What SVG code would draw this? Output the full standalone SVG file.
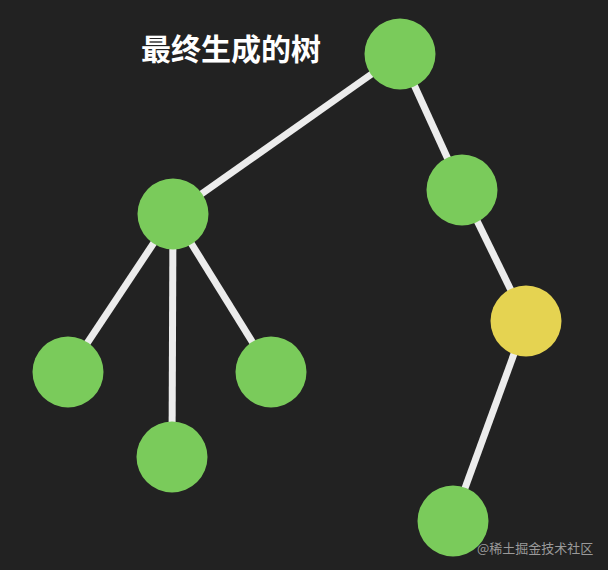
<svg xmlns="http://www.w3.org/2000/svg" width="608" height="570" viewBox="0 0 608 570">
<style>
.e{stroke:#ececec;stroke-width:7;stroke-linecap:butt}
.g{fill:#7acb5b}
.y{fill:#e5d351}
.t{font-family:"Noto Sans CJK SC","Noto Sans",sans-serif;fill:#ffffff;font-weight:bold;font-size:30px}
.w{font-family:"Noto Sans CJK SC","Noto Sans",sans-serif;fill:#9a9a9a;font-size:13px}
</style>
<rect width="608" height="570" fill="#222222"/>
<g id="edges">
<line class="e" x1="400" y1="54" x2="173" y2="214"/>
<line class="e" x1="400" y1="54" x2="462" y2="190"/>
<line class="e" x1="462" y1="190" x2="526" y2="321"/>
<line class="e" x1="526" y1="321" x2="453" y2="521"/>
<line class="e" x1="173" y1="214" x2="68" y2="372"/>
<line class="e" x1="173" y1="214" x2="172" y2="457"/>
<line class="e" x1="173" y1="214" x2="271" y2="372"/>
</g>
<g id="root"><circle class="g" cx="400" cy="54" r="35.5"/></g>
<g id="n1"><circle class="g" cx="173" cy="214" r="35.5"/></g>
<g id="n2"><circle class="g" cx="462" cy="190" r="35.5"/></g>
<g id="n3"><circle class="y" cx="526" cy="321" r="35.5"/></g>
<g id="n4"><circle class="g" cx="68" cy="372" r="35.5"/></g>
<g id="n5"><circle class="g" cx="172" cy="457" r="35.5"/></g>
<g id="n6"><circle class="g" cx="271" cy="372" r="35.5"/></g>
<g id="n7"><circle class="g" cx="453" cy="521" r="35.5"/></g>
<g id="title"><text class="t" x="141" y="60">最终生成的树</text></g>
<text class="w" x="477" y="553">@稀土掘金技术社区</text>
</svg>
